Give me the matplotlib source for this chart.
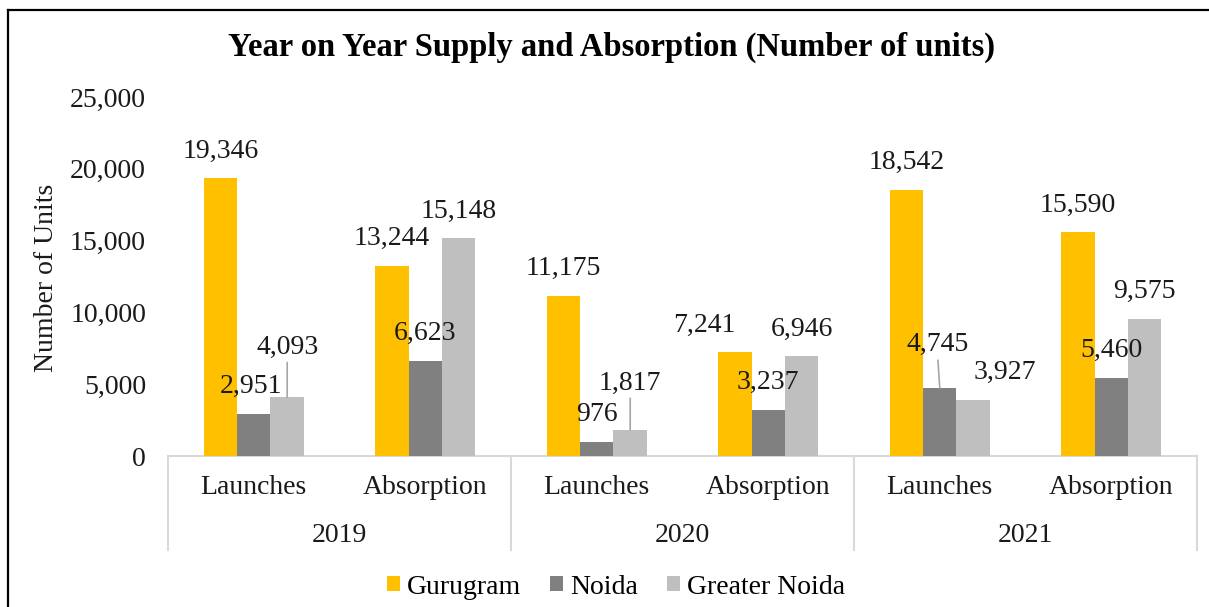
import matplotlib
matplotlib.use("Agg")
import matplotlib.pyplot as plt
from matplotlib.lines import Line2D
from matplotlib.patches import Patch
import matplotlib.transforms as mtransforms
import numpy as np

years = ["2019", "2020", "2021"]
metrics = ["Launches", "Absorption"]
series_names = ["Gurugram", "Noida", "Greater Noida"]
gurugram = [19346, 13244, 11175, 7241, 18542, 15590]
noida = [2951, 6623, 976, 3237, 4745, 5460]
greater_noida = [4093, 15148, 1817, 6946, 3927, 9575]
yticks = [0, 5000, 10000, 15000, 20000, 25000]

colors = ["#FFC000", "#808080", "#BFBFBF"]
FONT = "Liberation Serif"
plt.rcParams["font.family"] = [FONT, "DejaVu Serif"]
FS = 20
TXT = "#1a1a1a"

W, H = 1209, 607
fig = plt.figure(figsize=(W / 100, H / 100), dpi=100)
ax = fig.add_axes([168 / W, 1 - 456 / H, (1197 - 168) / W, (456 - 97) / H])

series = [gurugram, noida, greater_noida]
n_cat = len(years) * len(metrics)
x = np.arange(n_cat)
bw = 0.195
px2pt = 0.72

# manual label offsets (pixels: dx right, dy up) and leader-line flags, keyed (series, category)
adjust = {
    (2, 0): (0, 23, True),
    (1, 0): (-3, 0, False),
    (2, 2): (0, 20, True),
    (0, 3): (-30, 0, False),
    (1, 4): (-2, 16, True),
    (2, 4): (32, 0, False),
}

for si, vals in enumerate(series):
    xs = x + (si - 1) * bw
    ax.bar(xs, vals, width=bw, color=colors[si], zorder=2)
    for ci, (xx, v) in enumerate(zip(xs, vals)):
        dx, dy, leader = adjust.get((si, ci), (0, 0, False))
        kw = {}
        if leader:
            kw["arrowprops"] = dict(arrowstyle="-", color="#A6A6A6", lw=1.2,
                                    shrinkA=0, shrinkB=0, relpos=(0.5, 0.0))
        ax.annotate(f"{v:,}", xy=(xx, v), xytext=(dx * px2pt, (27 + dy) * px2pt),
                    textcoords="offset points", ha="center", va="center",
                    fontsize=FS, color=TXT, zorder=3, **kw)

ax.set_xlim(-0.5, n_cat - 0.5)
ax.set_ylim(0, 25000)
ax.set_yticks(yticks)
ax.set_yticklabels([f"{t:,}" for t in yticks], fontsize=FS, color=TXT)
ax.tick_params(axis="y", length=0, pad=22 * px2pt)
ax.set_xticks([])
for s in ax.spines.values():
    s.set_visible(False)

# multi-level category axis
trans = mtransforms.blended_transform_factory(ax.transData, ax.transAxes)
sep_col = "#D9D9D9"
ax.plot([-0.5, n_cat - 0.5], [0, 0], color=sep_col, lw=1.5, transform=trans, clip_on=False, zorder=1)
depth = -94 / 359
for k in range(len(years) + 1):
    xv = -0.5 + k * len(metrics)
    ax.plot([xv, xv], [0, depth], color=sep_col, lw=1.5, transform=trans, clip_on=False)
for ci in range(n_cat):
    ax.text(ci, -32 / 359, metrics[ci % len(metrics)], transform=trans, ha="center", va="center",
            fontsize=FS, color=TXT)
for yi, yr in enumerate(years):
    xc = yi * len(metrics) + (len(metrics) - 1) / 2
    ax.text(xc, -79 / 359, yr, transform=trans, ha="center", va="center", fontsize=FS, color=TXT)

fig.text(47 / W, 1 - 278 / H, "Number of Units", rotation=90, ha="center", va="center",
         fontsize=FS, color=TXT)
fig.text(611 / W, 1 - 47 / H, "Year on Year Supply and Absorption (Number of units)",
         ha="center", va="center", fontsize=23.5, fontweight="bold", color="#000000")

handles = [Patch(facecolor=c, edgecolor="none") for c in colors]
fig.legend(handles, series_names, loc="center", bbox_to_anchor=(616 / W, 1 - 587 / H), ncol=3,
           frameon=False, fontsize=FS, handlelength=0.47, handleheight=0.47, handletextpad=0.25,
           columnspacing=1.05, borderpad=0)

# outer frame (left and top edges)
fig.add_artist(Line2D([7.5 / W, 7.5 / W], [0, 1 - 10 / H], color="black", lw=2.2 * 0.72,
                      transform=fig.transFigure))
fig.add_artist(Line2D([7.5 / W, 1], [1 - 10 / H, 1 - 10 / H], color="black", lw=2.2 * 0.72,
                      transform=fig.transFigure))

fig.savefig("out.png", dpi=100)
